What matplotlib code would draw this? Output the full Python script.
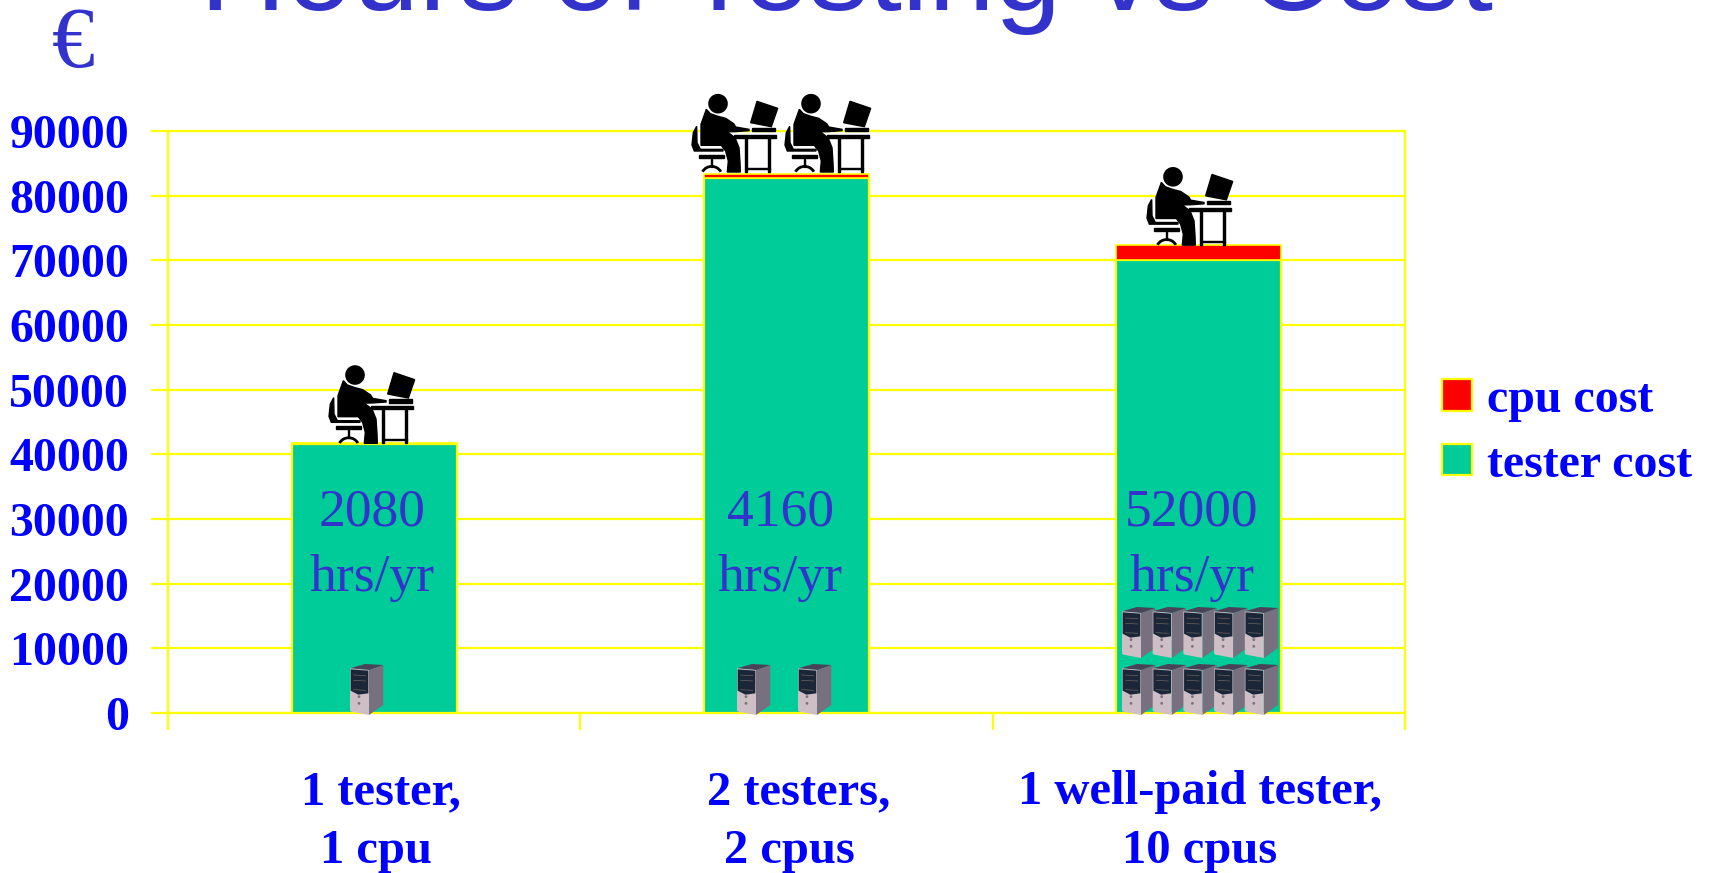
import numpy as np
from matplotlib import pyplot as plt
from matplotlib.patches import Polygon, Circle, Wedge, Patch
from matplotlib.transforms import ScaledTranslation

# data
cat_line1 = ['1 tester,', '2 testers,', '1 well-paid tester,']
cat_line2 = ['1 cpu', '2 cpus', '10 cpus']
tester_cost = [41600, 82800, 70000]
cpu_cost = [150, 600, 2400]
hours = ['2080', '4160', '52000']
yticks = [0, 10000, 20000, 30000, 40000, 50000, 60000, 70000, 80000, 90000]

BLUE = '#0000FF'
TITLE_BLUE = '#3333CC'
YELLOW = '#FFFF00'
GREEN = '#00CC99'
RED = '#FF0000'
W, H = 1713, 873

fig = plt.figure(figsize=(W / 100, H / 100), dpi=100, facecolor='white')
L, R, T, B = 168, 1405, 131, 713
ax = fig.add_axes([L / W, 1 - B / H, (R - L) / W, (B - T) / H])

x = np.arange(len(tester_cost))
bw = 0.4
ax.bar(x, tester_cost, bw, color=GREEN, edgecolor=YELLOW, linewidth=1.6, zorder=3, label='tester cost')
ax.bar(x, cpu_cost, bw, bottom=tester_cost, color=RED, edgecolor=YELLOW, linewidth=1.2, zorder=3, label='cpu cost')
ax.set_xlim(-0.5, 2.5)
ax.set_ylim(0, 90000)
ax.set_yticks(yticks)
ax.set_xticks([-0.5, 0.5, 1.5, 2.5])
ax.set_xticklabels([])
ax.set_yticklabels([str(v) for v in yticks], family='Liberation Serif', weight='bold',
                   fontsize=34.4, color=BLUE)
# the labels sit a little below their ticks in the original
for lab in ax.get_yticklabels():
    lab.set_transform(lab.get_transform() + ScaledTranslation(0, -10 / 100, fig.dpi_scale_trans))
ax.tick_params(axis='both', color=YELLOW, width=1.6, length=12, pad=16)
ax.grid(axis='y', color=YELLOW, linewidth=1.6, zorder=0)
ax.set_axisbelow(True)
for s in ax.spines.values():
    s.set_color(YELLOW)
    s.set_linewidth(1.6)

handles = [Patch(facecolor=RED, edgecolor=YELLOW, linewidth=1.6, label='cpu cost'),
           Patch(facecolor=GREEN, edgecolor=YELLOW, linewidth=1.6, label='tester cost')]
fig.legend(handles=handles, loc='upper left', bbox_to_anchor=(1442 / W, 1 - 378 / H), frameon=False,
           prop={'family': 'Liberation Serif', 'weight': 'bold', 'size': 34.5},
           labelcolor=BLUE, handlelength=0.63, handleheight=0.63, handletextpad=0.3,
           labelspacing=0.43, borderpad=0, borderaxespad=0)

# overlay in pixel coords for the icons and the loose text boxes
ov = fig.add_axes([0, 0, 1, 1], zorder=5)
ov.set_xlim(0, W)
ov.set_ylim(H, 0)
ov.axis('off')
ov.patch.set_alpha(0)


def bar_top_px(total):
    return H - ax.transData.transform((0, total))[1]


def person(cx, cy):
    # local units are 1/3 px, origin at the centre of the head
    def P(pts):
        return [(cx + (a - 285) / 3, cy + (b - 108) / 3) for a, b in pts]

    def poly(pts):
        ov.add_patch(Polygon(P(pts), fc='black', ec='black', lw=1.0))

    def rect(x0, y0, x1, y1):
        poly([(x0, y0), (x1, y0), (x1, y1), (x0, y1)])

    ov.add_patch(Circle((cx, cy), 9.8, fc='black', ec='none'))
    # torso, thigh, leg
    poly([(250, 125), (262, 138), (285, 146), (308, 152), (332, 168), (338, 178), (378, 185),
          (378, 189), (335, 192), (312, 192), (336, 210), (348, 240), (351, 285), (352, 313),
          (313, 313), (316, 280), (308, 250), (295, 233), (234, 233), (234, 170)])
    # chair back
    poly([(221, 176), (211, 195), (207, 232), (214, 250), (300, 250), (300, 245), (232, 245), (222, 225)])
    rect(227, 262, 303, 271)
    rect(263, 273, 268, 298)
    ov.add_patch(Wedge((cx + (266 - 285) / 3, cy + (328 - 108) / 3), 12, 210, 330, width=2.8,
                       fc='black', ec='none'))
    # desk
    rect(332, 202, 458, 210)
    rect(366, 212, 372, 313)
    rect(436, 212, 442, 313)
    rect(370, 300, 440, 304)
    rect(387, 180, 456, 191)
    poly([(402, 101), (464, 122), (445, 177), (383, 165)])


def tower(x0, y0):
    # x0, y0 is the top left corner of the box, local units are 1/3 px
    def P(pts):
        return [(x0 + a / 3, y0 + b / 3) for a, b in pts]

    ov.add_patch(Polygon(P([(57, 18), (100, 3), (100, 123), (57, 153)]), fc='#77707F', ec='none'))
    ov.add_patch(Polygon(P([(0, 13), (45, 0), (100, 3), (57, 18)]), fc='#4A4258', ec='none'))
    ov.add_patch(Polygon(P([(0, 13), (57, 18), (57, 153), (4, 143), (0, 140)]), fc='#CDBFC5', ec='none'))
    ov.add_patch(Polygon(P([(2, 16), (55, 20), (55, 88), (25, 92), (2, 80)]), fc='#1B2639', ec='none'))
    for yy in (32, 48, 76):
        ov.add_patch(Polygon(P([(10, yy), (48, yy + 2), (48, yy + 4), (10, yy + 2)]), fc='#6E6660', ec='none'))
    for yy in (98, 118):
        ov.add_patch(Circle((x0 + 27 / 3, y0 + yy / 3), 1.4, fc='#7C7478', ec='none'))


totals = [a + b for a, b in zip(tester_cost, cpu_cost)]
person(355, bar_top_px(totals[0]) - 68)
person(718, bar_top_px(totals[1]) - 70)
person(811, bar_top_px(totals[1]) - 70)
person(1173, bar_top_px(totals[2]) - 68)

tower(350, 664)
tower(737, 664)
tower(798, 664)
for row_y in (607, 664):
    for i in range(5):
        tower(1122 + i * 30.7, row_y)

serif = 'Liberation Serif'
for cx, hr in zip((372, 780, 1192), hours):
    ov.text(cx, 513, hr, family=serif, fontsize=38.5, color=TITLE_BLUE, ha='center', va='center')
    ov.text(cx, 578, 'hrs/yr', family=serif, fontsize=38.5, color=TITLE_BLUE, ha='center', va='center')

# the two lines of each label are not quite centred on each other in the original
for cx1, cx2, a, b in zip((381, 799, 1200), (376, 789, 1200), cat_line1, cat_line2):
    ov.text(cx1, 792, a, family=serif, weight='bold', fontsize=35, color=BLUE, ha='center', va='center')
    ov.text(cx2, 851, b, family=serif, weight='bold', fontsize=35, color=BLUE, ha='center', va='center')

ov.text(846, 10, 'Hours of Testing vs Cost', family='Liberation Sans', fontsize=86, color=TITLE_BLUE,
        ha='center', va='baseline')
ov.text(73, 46, '€', family=serif, fontsize=62, color=TITLE_BLUE, ha='center', va='center')

fig.savefig('out.png', dpi=100)
